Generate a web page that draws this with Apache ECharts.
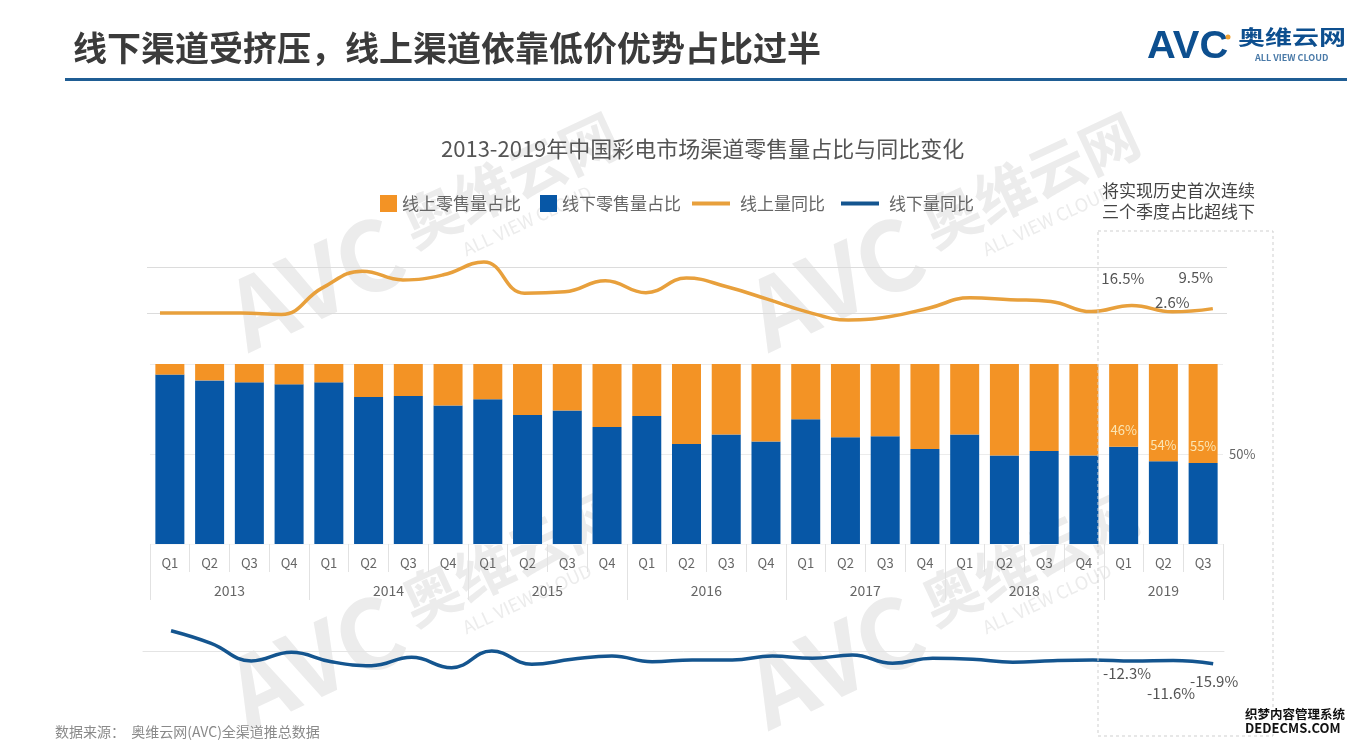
<!DOCTYPE html>
<html>
<head>
<meta charset="utf-8">
<style>
    html, body { margin: 0; padding: 0; background: #fff; }
    #main { width: 1354px; height: 742px; }
</style>
<script src="https://cdn.jsdelivr.net/npm/echarts@6/dist/echarts.min.js"></script>
</head>
<body>
<div id="main"></div>
<script>
// Values
const quarters = ['Q1','Q2','Q3','Q4','Q1','Q2','Q3','Q4','Q1','Q2','Q3','Q4','Q1','Q2','Q3','Q4','Q1','Q2','Q3','Q4','Q1','Q2','Q3','Q4','Q1','Q2','Q3'];
const years = ['2013','2014','2015','2016','2017','2018','2019'];
const quartersPerYear = [4,4,4,4,4,4,3];

const onlineShare = [5.9,9.1,10.2,11.3,10.2,18.3,17.8,23.1,19.6,28.3,25.9,35,28.9,44.4,39.1,43.1,30.7,40.7,40.2,47.2,39.1,50.9,48.3,50.9,46,54,55];
const onlineYoY = [0,0,0,-3,54,91,72,83,111,43,46,70,44,76,57,30,2,-15,-8,11,33,29,25,3,16.5,2.6,9.5];
const offlineYoY = [27.6,11,-12.2,-0.8,-13.2,-18.4,-7.4,-21,0.9,-16.6,-10,-5.7,-13.2,-10.9,-10.9,-5.7,-8.7,-4.3,-15.3,-8.7,-10,-13.9,-11.8,-10.9,-12.3,-11.6,-15.9];

const offlineShare = onlineShare.map(v => 100 - v);

const FONT = '"Noto Sans CJK SC", "Noto Sans", sans-serif';
const ORANGE = '#f39325';
const BLUE = '#0757a6';
const LINE_ORANGE = '#e8a03c';
const LINE_BLUE = '#14558f';

// The year axis has two slots per quarter, so a label can sit between two quarters
function yearSlots(){
    const labels = new Array(quarters.length * 2 + 1).fill('');
    const ticks = [0];
    let pos = 0;
    for (let i = 0; i < years.length; i++){
        labels[pos + quartersPerYear[i]] = years[i];
        pos += quartersPerYear[i] * 2;
        ticks.push(pos);
    }
    return { labels, ticks };
}
const slots = yearSlots();

// Only the 2019 points carry a label, each nudged off the line as in the original
function lineData(values, offsets){
    return values.map((v, i) => {
        const k = i - (values.length - offsets.length);
        if (k < 0) return { value: [i, v] };
        return {
            value: [i, v],
            label: {
                show: true,
                position: 'inside',
                offset: offsets[k],
                formatter: v + '%',
                fontSize: 15,
                fontFamily: FONT,
                color: '#555'
            }
        };
    });
}

function lineSeries(name, values, offsets, color, xIndex, yIndex){
    return {
        name,
        type: 'line',
        xAxisIndex: xIndex,
        yAxisIndex: yIndex,
        data: lineData(values, offsets),
        smooth: 0.45,
        clip: false,
        showAllSymbol: true,
        symbol: 'circle',
        symbolSize: 0,
        itemStyle: { color },
        lineStyle: { color, width: 3.5 },
        z: 4
    };
}

function hiddenX(min, max){
    return {
        type: 'value', min, max,
        splitLine: { show: false },
        axisTick: { show: false },
        axisLabel: { show: false },
        axisLine: { show: false }
    };
}

// Faint logo repeated behind the chart
function watermark(x, y){
    const text = (str, tx, ty, size, weight) => ({
        type: 'text', x: tx, y: ty, z: 0, silent: true,
        style: { text: str, fill: '#ececec', font: weight + ' ' + size + 'px ' + FONT, align: 'center', verticalAlign: 'middle' }
    });
    return {
        type: 'group', x, y, rotation: 25 * Math.PI / 180,
        children: [
            text('AVC', 0, 0, 96, 'bold'),
            text('奥维云网', 220, -10, 58, 'bold'),
            text('ALL VIEW CLOUD', 218, 34, 18, 'normal')
        ]
    };
}

var chartDom = document.getElementById('main');
var myChart = echarts.init(chartDom);
var option = {
    animation: false,
    backgroundColor: '#fff',
    title: [
        {
            text: '线下渠道受挤压，线上渠道依靠低价优势占比过半',
            left: 68, top: 26,
            textStyle: { fontFamily: FONT, fontSize: 34, fontWeight: 'bold', color: '#3b3b3b' }
        },
        {
            text: '2013-2019年中国彩电市场渠道零售量占比与同比变化',
            left: 436, top: 133,
            textStyle: { fontFamily: FONT, fontSize: 22, fontWeight: 'normal', color: '#555' }
        }
    ],
    legend: [
        {
            data: ['线上零售量占比', '线下零售量占比'],
            left: 375, top: 190,
            icon: 'rect', itemWidth: 17, itemHeight: 17, itemGap: 19,
            textStyle: { fontFamily: FONT, fontSize: 17, color: '#666' }
        },
        {
            data: ['线上量同比', '线下量同比'],
            left: 687, top: 190,
            icon: 'rect', itemWidth: 38, itemHeight: 4, itemGap: 16,
            textStyle: { fontFamily: FONT, fontSize: 17, color: '#666', padding: [0, 0, 0, 5] }
        }
    ],
    grid: [
        { left: 150, width: 1073, top: 364, height: 180 },
        { left: 147, width: 1080, top: 267, height: 46 },
        { left: 143, width: 1081, top: 621.3, height: 60.8 }
    ],
    xAxis: [
        {
            type: 'category', gridIndex: 0, data: quarters,
            axisLine: { show: false },
            axisTick: { show: true, length: 28, lineStyle: { color: '#e2e2e2' } },
            axisLabel: { interval: 0, margin: 13, fontSize: 13, fontFamily: FONT, color: '#666' }
        },
        {
            type: 'category', gridIndex: 0, data: slots.labels, position: 'bottom', offset: 28,
            boundaryGap: false,
            axisLine: { show: false },
            axisTick: { show: true, length: 28, interval: (i) => slots.ticks.includes(i), lineStyle: { color: '#e2e2e2' } },
            axisLabel: { interval: 0, margin: 12, fontSize: 14, fontFamily: FONT, color: '#666' }
        },
        Object.assign(hiddenX(-0.32, 26.35), { gridIndex: 1 }),
        Object.assign(hiddenX(-0.7, 26.27), {
            gridIndex: 2,
            axisLine: { show: true, onZero: true, lineStyle: { color: '#e4e4e4' } }
        })
    ],
    yAxis: [
        {
            type: 'value', gridIndex: 0, min: 0, max: 100, interval: 50, position: 'right',
            axisLine: { show: false },
            axisTick: { show: false },
            splitLine: { lineStyle: { color: ['#f6f6f6', '#ececec', '#ececec'] } },
            axisLabel: {
                margin: 6, fontSize: 13, fontFamily: FONT, color: '#666',
                formatter: (v) => v === 50 ? '50%' : ''
            }
        },
        {
            type: 'value', gridIndex: 1, min: 0, max: 100, interval: 100,
            axisLine: { show: false },
            axisTick: { show: false },
            axisLabel: { show: false },
            splitLine: { lineStyle: { color: '#dcdcdc' } }
        },
        {
            type: 'value', gridIndex: 2, min: -40, max: 40,
            axisLine: { show: false },
            axisTick: { show: false },
            axisLabel: { show: false },
            splitLine: { show: false }
        }
    ],
    series: [
        {
            name: '线下零售量占比', type: 'bar', stack: 'share', barWidth: 29,
            xAxisIndex: 0, yAxisIndex: 0,
            data: offlineShare,
            itemStyle: { color: BLUE },
            z: 3
        },
        {
            name: '线上零售量占比', type: 'bar', stack: 'share', barWidth: 29,
            xAxisIndex: 0, yAxisIndex: 0,
            data: onlineShare,
            itemStyle: { color: ORANGE },
            label: {
                show: true,
                position: 'insideBottom',
                distance: 10,
                fontSize: 13,
                fontFamily: FONT,
                color: '#fbe6b4',
                // only the three 2019 quarters are marked
                formatter: (p) => p.dataIndex >= quarters.length - 3 ? Math.round(p.value) + '%' : ''
            },
            z: 3
        },
        lineSeries('线上量同比', onlineYoY, [[-9, -27], [0, -10], [-17, -31]], LINE_ORANGE, 2, 1),
        lineSeries('线下量同比', offlineYoY, [[-6, 12], [-2, 33], [1, 18]], LINE_BLUE, 3, 2)
    ],
    graphic: [
        watermark(315, 282),
        watermark(835, 282),
        watermark(315, 660),
        watermark(835, 660),
        // rule under the page heading
        { type: 'rect', z: 5, shape: { x: 65, y: 78, width: 1282, height: 3 }, style: { fill: '#1f5d94' } },
        // company logo
        { type: 'text', z: 5, x: 1147, y: 29, scaleX: 1.05, style: { text: 'AVC', font: 'bold 38px "Liberation Sans", sans-serif', fill: '#0d4f8f' } },
        { type: 'circle', z: 5, shape: { cx: 1228, cy: 37, r: 2.5 }, style: { fill: '#f0a030' } },
        { type: 'text', z: 5, x: 1238, y: 27, scaleY: 0.75, style: { text: '奥维云网', font: 'bold 27px ' + FONT, fill: '#0d4f8f' } },
        { type: 'text', z: 5, x: 1255, y: 53, style: { text: 'ALL VIEW CLOUD', font: 'bold 9px ' + FONT, fill: '#4a7aa8' } },
        // highlight box around 2019
        { type: 'rect', z: 5, shape: { x: 1098, y: 231, width: 175, height: 505 }, style: { fill: 'none', stroke: '#cfcfcf', lineWidth: 1, lineDash: [3, 3] } },
        { type: 'text', z: 5, x: 1102, y: 180, style: { text: '将实现历史首次连续\n三个季度占比超线下', font: '17px ' + FONT, fill: '#444', lineHeight: 21 } },
        // source note and the reposting site's stamp
        { type: 'text', z: 5, x: 55, y: 725, style: { text: '数据来源：  奥维云网(AVC)全渠道推总数据', font: '14px ' + FONT, fill: '#8a8a8a' } },
        { type: 'text', z: 6, x: 1245, y: 708, style: { text: '织梦内容管理系统', font: 'bold 12.5px ' + FONT, fill: '#111', stroke: '#fff', lineWidth: 2 } },
        { type: 'text', z: 6, x: 1245, y: 722, style: { text: 'DEDECMS.COM', font: 'bold 13px ' + FONT, fill: '#111', stroke: '#fff', lineWidth: 2 } }
    ]
};
option && myChart.setOption(option);
</script>
</body>
</html>
